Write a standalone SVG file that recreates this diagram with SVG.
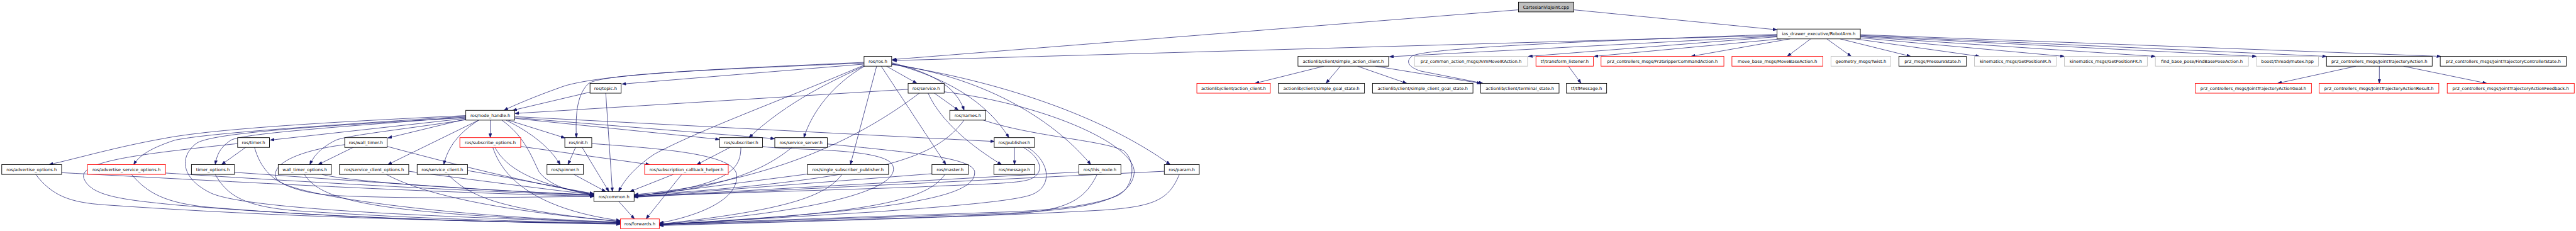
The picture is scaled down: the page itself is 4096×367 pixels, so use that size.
<svg xmlns="http://www.w3.org/2000/svg" width="4096" height="367" viewBox="0 0 4096 367">
<style>
.n rect{fill:#ffffff;stroke:#000000;stroke-width:1.6}
.n.root rect{fill:#bfbfbf}
.n.red rect{stroke:#ff0000}
.n.gray rect{stroke:#bfbfbf}
.n text{font-family:"DejaVu Sans",sans-serif;font-size:12.4px;fill:#000000;text-anchor:middle}
#edges path{fill:none;stroke:#191970;stroke-width:1.3;marker-end:url(#arr)}
</style>
<defs>
<marker id="arr" markerUnits="userSpaceOnUse" viewBox="0 0 12 9" markerWidth="12" markerHeight="9" refX="12" refY="4.5" orient="auto">
<path d="M0,0 L12,4.5 L0,9 z" fill="#191970" stroke="#191970" stroke-width="0.8"/>
</marker>
</defs>
<rect width="4096" height="367" fill="#ffffff"/>
<g transform="scale(0.55645)">
<g id="edges">
<path d="M4339,28 L2550,170"/>
<path d="M4497,28 L5078,85"/>
<path d="M5078,101 L2550,173"/>
<path d="M5078,103 L3970,162"/>
<path d="M5078,105 L4367,161"/>
<path d="M5090,111 L4555,161"/>
<path d="M5115,111 L4832,161"/>
<path d="M5174,111 L5107,161"/>
<path d="M5220,111 L5290,161"/>
<path d="M5258,111 L5460,161"/>
<path d="M5301,111 L5657,161"/>
<path d="M5316,108 L5899,161"/>
<path d="M5316,105 L6159,161"/>
<path d="M5316,103 L6448,161"/>
<path d="M5316,101 L6648,161"/>
<path d="M5316,99 L6975,161"/>
<path d="M5078,98 C4600,115 4080,135 4035,160 C4015,175 4025,192 4060,203 L4238,238"/>
<path d="M3783,189 L3586,238"/>
<path d="M3830,189 L3789,238"/>
<path d="M3879,189 L4020,238"/>
<path d="M3930,189 L4232,238"/>
<path d="M4482,189 L4518,238"/>
<path d="M6732,189 L6508,238"/>
<path d="M6799,189 L6799,238"/>
<path d="M6868,189 L7106,238"/>
<path d="M2469,178 C2100,195 1700,210 1600,250 C1530,275 1470,300 1440,315"/>
<path d="M2469,180 C2000,200 1710,212 1680,240 C1645,275 1645,340 1647,393"/>
<path d="M2469,183 L1777,240"/>
<path d="M2469,186 C2250,280 2000,370 1870,440 C1810,480 1780,520 1768,547"/>
<path d="M2470,188 C2380,230 2250,290 2140,393"/>
<path d="M2472,188 C2380,240 2320,320 2297,393"/>
<path d="M2505,189 L2430,470"/>
<path d="M2518,189 L2703,470"/>
<path d="M2533,189 L2620,238"/>
<path d="M2548,179 C2650,205 2730,240 2755,315"/>
<path d="M2548,181 C2700,220 2820,290 2883,393"/>
<path d="M2548,183 C2800,220 3000,330 3117,470"/>
<path d="M2548,184 C2850,230 3150,330 3344,470"/>
<path d="M2595,255 L1471,324"/>
<path d="M2627,266 C2450,400 2200,520 1812,556"/>
<path d="M2652,266 C2690,350 2780,420 2862,470"/>
<path d="M2670,266 L2739,315"/>
<path d="M2698,262 C3000,300 3260,420 3240,500 C3225,575 3100,600 2850,610 L1884,641"/>
<path d="M2755,343 C2680,440 2560,510 1812,558"/>
<path d="M2810,343 C2950,390 3150,400 3210,430 C3250,460 3240,540 3190,560 C3100,595 2950,603 2850,606 L1884,640"/>
<path d="M2899,420 L2899,470"/>
<path d="M2923,420 C2975,450 2990,495 2940,513 C2900,525 2800,525 2600,535 L1812,560"/>
<path d="M2935,420 C3000,460 3010,530 2950,555 C2900,575 2700,590 2500,605 L1884,642"/>
<path d="M2307,497 L1812,561"/>
<path d="M2406,498 C2360,560 2250,600 1884,640"/>
<path d="M2663,496 L1812,562"/>
<path d="M2700,498 C2650,570 2500,610 1884,641"/>
<path d="M3083,491 L1812,562"/>
<path d="M3135,498 C3100,570 3050,600 2900,610 C2600,625 2200,632 1884,643"/>
<path d="M3327,489 L1812,563"/>
<path d="M3370,498 C3340,570 3300,590 3150,600 C2800,620 2200,635 1884,644"/>
<path d="M2088,420 L1991,470"/>
<path d="M2117,420 C2117,480 2090,530 1812,560"/>
<path d="M2179,418 C2240,430 2520,420 2550,470 C2580,530 2400,600 1884,640"/>
<path d="M2264,420 C2180,490 2050,540 1812,559"/>
<path d="M2364,411 C2600,435 2780,450 2785,490 C2790,560 2600,600 1884,641"/>
<path d="M1924,498 L1800,547"/>
<path d="M1948,498 L1846,625"/>
<path d="M1488,418 L1857,470"/>
<path d="M1414,420 C1450,490 1550,530 1697,556"/>
<path d="M1408,420 C1440,520 1550,600 1773,630"/>
<path d="M1331,340 L1108,394"/>
<path d="M1401,343 L1401,393"/>
<path d="M1452,343 L1615,394"/>
<path d="M1446,343 C1520,380 1570,420 1601,470"/>
<path d="M1434,343 C1500,390 1520,450 1540,490 C1570,530 1630,548 1697,555"/>
<path d="M1368,343 L1108,470"/>
<path d="M1368,343 C1310,380 1280,420 1268,470"/>
<path d="M1331,338 L772,400"/>
<path d="M1331,330 C900,350 600,370 470,395 C330,420 230,450 140,470"/>
<path d="M1331,332 C900,360 600,380 500,400 C440,420 400,440 382,470"/>
<path d="M1331,334 C1000,360 700,380 660,400 C630,420 620,440 615,470"/>
<path d="M1331,342 C1150,370 1000,385 960,400 C920,420 900,440 885,470"/>
<path d="M1331,336 C900,360 600,380 560,410 C510,450 520,510 600,550 C700,600 1300,620 1773,636"/>
<path d="M1471,333 L2842,404"/>
<path d="M1471,336 L2214,396"/>
<path d="M1471,338 L2056,398"/>
<path d="M703,420 L633,470"/>
<path d="M727,420 C750,500 800,545 950,558 C1200,570 1500,562 1697,561"/>
<path d="M679,410 C400,440 220,460 240,510 C260,560 350,570 500,585 C900,620 1400,635 1773,640"/>
<path d="M1011,420 L909,470"/>
<path d="M1106,418 C1300,470 1500,520 1697,554"/>
<path d="M985,413 C850,430 770,470 790,510 C820,560 1300,620 1773,634"/>
<path d="M176,493 C600,515 1200,550 1697,560"/>
<path d="M102,498 C150,560 200,578 300,585 C800,620 1300,632 1773,638"/>
<path d="M473,494 C800,515 1300,545 1697,558"/>
<path d="M376,498 C420,550 470,580 600,592 C1000,625 1400,634 1773,639"/>
<path d="M670,492 C1000,515 1400,545 1697,557"/>
<path d="M615,498 C650,560 700,590 850,602 C1200,625 1500,633 1773,637"/>
<path d="M920,498 C1000,520 1400,545 1697,556"/>
<path d="M870,498 C920,580 1100,610 1773,636"/>
<path d="M1168,489 C1400,520 1600,545 1697,556"/>
<path d="M1104,498 C1200,550 1400,600 1773,632"/>
<path d="M1336,487 C1500,515 1620,540 1697,553"/>
<path d="M1280,498 C1350,570 1450,600 1773,633"/>
<path d="M1640,498 L1731,547"/>
<path d="M1645,420 L1623,470"/>
<path d="M1663,420 L1740,547"/>
<path d="M1691,410 C1900,425 2100,440 2105,500 C2110,570 2000,615 1884,637"/>
<path d="M1686,263 L1465,315"/>
<path d="M1731,266 L1750,547"/>
<path d="M1768,575 L1813,625"/>
</g>
<g id="n0" class="n root"><rect x="4339" y="6" width="158" height="28"/><text x="4418" y="24.5">CartesianViaJoint.cpp</text></g>
<g id="n1" class="n"><rect x="5078" y="83" width="238" height="28"/><text x="5197" y="101.5">ias_drawer_executive/RobotArm.h</text></g>
<g id="n2" class="n"><rect x="2469" y="161" width="79" height="28"/><text x="2508.5" y="179.5">ros/ros.h</text></g>
<g id="n3" class="n"><rect x="3709" y="161" width="259" height="28"/><text x="3838.5" y="179.5">actionlib/client/simple_action_client.h</text></g>
<g id="n4" class="n gray"><rect x="4042" y="161" width="323" height="28"/><text x="4203.5" y="179.5">pr2_common_action_msgs/ArmMoveIKAction.h</text></g>
<g id="n5" class="n red"><rect x="4389" y="161" width="164" height="28"/><text x="4471" y="179.5">tf/transform_listener.h</text></g>
<g id="n6" class="n red"><rect x="4575" y="161" width="351" height="28"/><text x="4750.5" y="179.5">pr2_controllers_msgs/Pr2GripperCommandAction.h</text></g>
<g id="n7" class="n red"><rect x="4949" y="161" width="260" height="28"/><text x="5079" y="179.5">move_base_msgs/MoveBaseAction.h</text></g>
<g id="n8" class="n gray"><rect x="5232" y="161" width="171" height="28"/><text x="5317.5" y="179.5">geometry_msgs/Twist.h</text></g>
<g id="n9" class="n"><rect x="5426" y="161" width="193" height="28"/><text x="5522.5" y="179.5">pr2_msgs/PressureState.h</text></g>
<g id="n10" class="n gray"><rect x="5642" y="161" width="234" height="28"/><text x="5759" y="179.5">kinematics_msgs/GetPositionIK.h</text></g>
<g id="n11" class="n gray"><rect x="5899" y="161" width="237" height="28"/><text x="6017.5" y="179.5">kinematics_msgs/GetPositionFK.h</text></g>
<g id="n12" class="n gray"><rect x="6159" y="161" width="266" height="28"/><text x="6292" y="179.5">find_base_pose/FindBasePoseAction.h</text></g>
<g id="n13" class="n gray"><rect x="6448" y="161" width="177" height="28"/><text x="6536.5" y="179.5">boost/thread/mutex.hpp</text></g>
<g id="n14" class="n"><rect x="6648" y="161" width="302" height="28"/><text x="6799" y="179.5">pr2_controllers_msgs/JointTrajectoryAction.h</text></g>
<g id="n15" class="n"><rect x="6973" y="161" width="360" height="28"/><text x="7153" y="179.5">pr2_controllers_msgs/JointTrajectoryControllerState.h</text></g>
<g id="n16" class="n"><rect x="1686" y="238" width="89" height="28"/><text x="1730.5" y="256.5">ros/topic.h</text></g>
<g id="n17" class="n"><rect x="2595" y="238" width="103" height="28"/><text x="2646.5" y="256.5">ros/service.h</text></g>
<g id="n18" class="n red"><rect x="3420" y="238" width="210" height="28"/><text x="3525" y="256.5">actionlib/client/action_client.h</text></g>
<g id="n19" class="n"><rect x="3653" y="238" width="246" height="28"/><text x="3776" y="256.5">actionlib/client/simple_goal_state.h</text></g>
<g id="n20" class="n"><rect x="3922" y="238" width="287" height="28"/><text x="4065.5" y="256.5">actionlib/client/simple_client_goal_state.h</text></g>
<g id="n21" class="n"><rect x="4231" y="238" width="224" height="28"/><text x="4343" y="256.5">actionlib/client/terminal_state.h</text></g>
<g id="n22" class="n"><rect x="4476" y="238" width="115" height="28"/><text x="4533.5" y="256.5">tf/tfMessage.h</text></g>
<g id="n23" class="n red"><rect x="6273" y="238" width="332" height="28"/><text x="6439" y="256.5">pr2_controllers_msgs/JointTrajectoryActionGoal.h</text></g>
<g id="n24" class="n red"><rect x="6627" y="238" width="342" height="28"/><text x="6798" y="256.5">pr2_controllers_msgs/JointTrajectoryActionResult.h</text></g>
<g id="n25" class="n red"><rect x="6993" y="238" width="363" height="28"/><text x="7174.5" y="256.5">pr2_controllers_msgs/JointTrajectoryActionFeedback.h</text></g>
<g id="n26" class="n"><rect x="1331" y="315" width="140" height="28"/><text x="1401" y="333.5">ros/node_handle.h</text></g>
<g id="n27" class="n"><rect x="2714" y="315" width="103" height="28"/><text x="2765.5" y="333.5">ros/names.h</text></g>
<g id="n28" class="n"><rect x="679" y="393" width="91" height="28"/><text x="724.5" y="411.5">ros/timer.h</text></g>
<g id="n29" class="n"><rect x="985" y="393" width="121" height="28"/><text x="1045.5" y="411.5">ros/wall_timer.h</text></g>
<g id="n30" class="n red"><rect x="1314" y="393" width="174" height="28"/><text x="1401" y="411.5">ros/subscribe_options.h</text></g>
<g id="n31" class="n"><rect x="1614" y="393" width="77" height="28"/><text x="1652.5" y="411.5">ros/init.h</text></g>
<g id="n32" class="n"><rect x="2056" y="393" width="123" height="28"/><text x="2117.5" y="411.5">ros/subscriber.h</text></g>
<g id="n33" class="n"><rect x="2214" y="393" width="150" height="28"/><text x="2289" y="411.5">ros/service_server.h</text></g>
<g id="n34" class="n"><rect x="2841" y="393" width="115" height="28"/><text x="2898.5" y="411.5">ros/publisher.h</text></g>
<g id="n35" class="n"><rect x="5" y="470" width="171" height="28"/><text x="90.5" y="488.5">ros/advertise_options.h</text></g>
<g id="n36" class="n red"><rect x="250" y="470" width="223" height="28"/><text x="361.5" y="488.5">ros/advertise_service_options.h</text></g>
<g id="n37" class="n"><rect x="547" y="470" width="123" height="28"/><text x="608.5" y="488.5">timer_options.h</text></g>
<g id="n38" class="n"><rect x="795" y="470" width="152" height="28"/><text x="871" y="488.5">wall_timer_options.h</text></g>
<g id="n39" class="n"><rect x="970" y="470" width="198" height="28"/><text x="1069" y="488.5">ros/service_client_options.h</text></g>
<g id="n40" class="n"><rect x="1192" y="470" width="144" height="28"/><text x="1264" y="488.5">ros/service_client.h</text></g>
<g id="n41" class="n"><rect x="1563" y="470" width="104" height="28"/><text x="1615" y="488.5">ros/spinner.h</text></g>
<g id="n42" class="n red"><rect x="1842" y="470" width="239" height="28"/><text x="1961.5" y="488.5">ros/subscription_callback_helper.h</text></g>
<g id="n43" class="n"><rect x="2307" y="470" width="232" height="28"/><text x="2423" y="488.5">ros/single_subscriber_publisher.h</text></g>
<g id="n44" class="n"><rect x="2663" y="470" width="104" height="28"/><text x="2715" y="488.5">ros/master.h</text></g>
<g id="n45" class="n"><rect x="2840" y="470" width="117" height="28"/><text x="2898.5" y="488.5">ros/message.h</text></g>
<g id="n46" class="n"><rect x="3083" y="470" width="120" height="28"/><text x="3143" y="488.5">ros/this_node.h</text></g>
<g id="n47" class="n"><rect x="3327" y="470" width="100" height="28"/><text x="3377" y="488.5">ros/param.h</text></g>
<g id="n48" class="n"><rect x="1697" y="547" width="115" height="28"/><text x="1754.5" y="565.5">ros/common.h</text></g>
<g id="n49" class="n red"><rect x="1773" y="625" width="111" height="28"/><text x="1828.5" y="643.5">ros/forwards.h</text></g>
</g>
</svg>
